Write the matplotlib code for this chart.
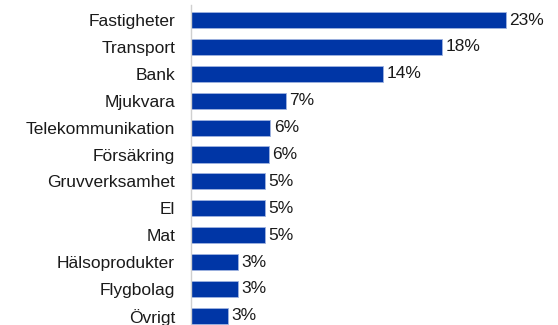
import matplotlib.pyplot as plt

# sektorer och andelar (procent)
sektorer = ['Fastigheter', 'Transport', 'Bank', 'Mjukvara', 'Telekommunikation',
            'Försäkring', 'Gruvverksamhet', 'El', 'Mat', 'Hälsoprodukter',
            'Flygbolag', 'Övrigt']
andelar = [23.0, 18.3, 14.0, 6.9, 5.8, 5.7, 5.4, 5.4, 5.4, 3.4, 3.4, 2.7]

plt.rcParams['font.family'] = ['Liberation Sans', 'DejaVu Sans']

fig = plt.figure(figsize=(5.58, 3.25), dpi=100)
ax = fig.add_axes([191 / 558, 0, 367 / 558, 320 / 325])

pos = list(range(len(sektorer)))
bars = ax.barh(pos, andelar, height=0.6, color='#0036a6',
               edgecolor='#9fb3e0', linewidth=0.6)

for b, v in zip(bars, andelar):
    ax.annotate(f'{v:.0f}%', (b.get_width(), b.get_y() + b.get_height() / 2),
                xytext=(2.5, 0), textcoords='offset points',
                va='center', ha='left', fontsize=12.5, color='#1a1a1a')

ax.set_yticks(pos)
ax.set_yticklabels(sektorer, fontsize=12.5, color='#1a1a1a')
ax.tick_params(axis='y', length=0, pad=11.5)
ax.set_xticks([])
ax.set_xlim(0, 367 / 13.7)
ax.set_ylim(11.34, -0.56)

for s in ['top', 'right', 'bottom']:
    ax.spines[s].set_visible(False)
ax.spines['left'].set_color('#d0d0d0')
ax.spines['left'].set_linewidth(1)

fig.savefig('out.png', dpi=100)
